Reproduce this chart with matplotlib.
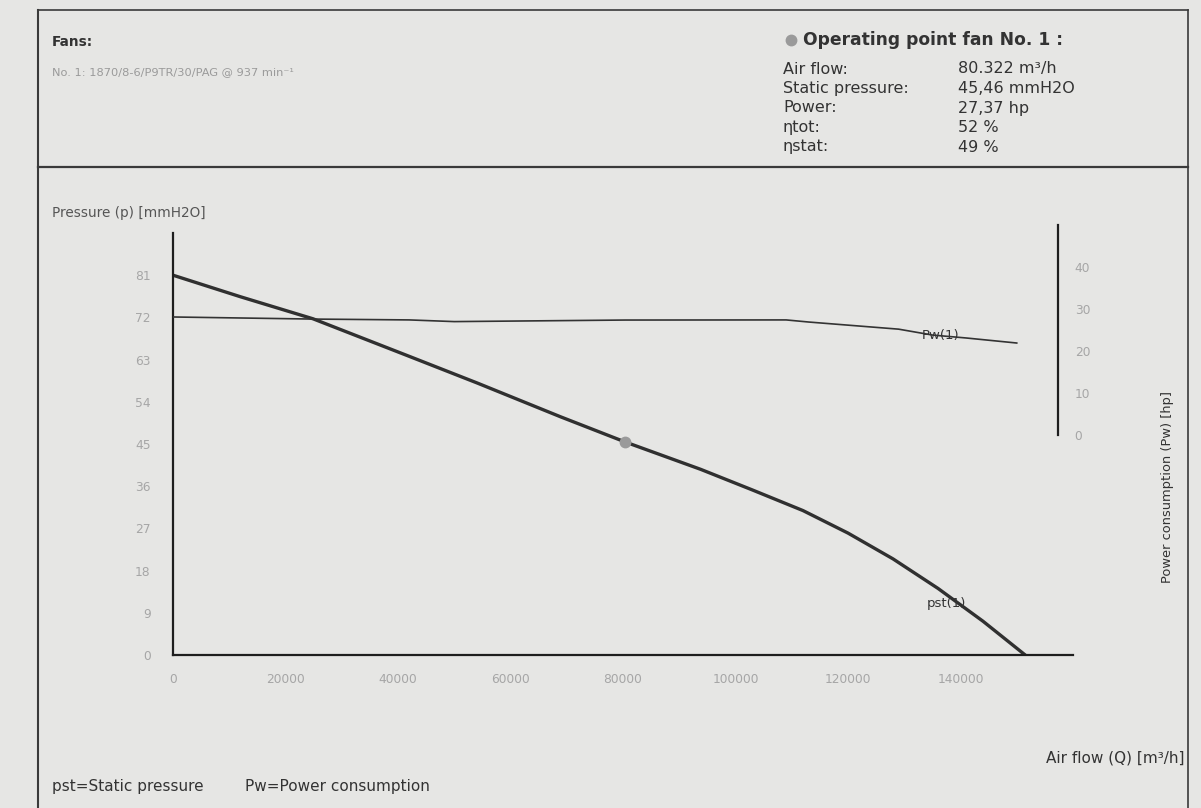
import matplotlib.pyplot as plt
from matplotlib.lines import Line2D

# fan curve data, static pressure (mmH2O) vs air flow (m3/h)
pst_flow = [0, 12000, 24900, 42200, 54100, 68900, 80322, 93800, 103000,
            112000, 120000, 128000, 136000, 144000, 151500]
pst_values = [81.0, 76.4, 71.7, 63.6, 58.0, 50.8, 45.46, 39.6, 35.2,
              30.8, 26.0, 20.5, 14.2, 7.2, 0.0]

# power consumption (hp) vs air flow
pw_flow = [0, 25000, 42000, 50000, 80322, 109000, 113000, 129000, 135000, 141000, 150000]
pw_values = [28.1, 27.6, 27.4, 27.0, 27.37, 27.4, 26.9, 25.2, 23.8, 23.1, 21.9]

# operating point
op_flow = 80322
op_pressure = 45.46

p_ticks = [0, 9, 18, 27, 36, 45, 54, 63, 72, 81]
q_ticks = [0, 20000, 40000, 60000, 80000, 100000, 120000, 140000]
pw_ticks = [0, 10, 20, 30, 40]

info_labels = ['Air flow:', 'Static pressure:', 'Power:', 'ηtot:', 'ηstat:']
info_values = ['80.322 m³/h', '45,46 mmH2O', '27,37 hp', '52 %', '49 %']

W, H = 1201, 808
paper = '#e6e6e4'
faint = '#a6a6a6'


def fx(px):
    return px / W


def fy(py):
    return 1 - py / H


fig = plt.figure(figsize=(W / 100, H / 100), dpi=100, facecolor=paper)

# frame around the sheet
for xs, ys, lw in [([38, 1188], [10, 10], 1.2),
                   ([38, 38], [10, 808], 1.5),
                   ([1188, 1188], [10, 808], 1.2),
                   ([38, 1188], [167, 167], 1.6)]:
    fig.add_artist(Line2D([fx(x) for x in xs], [fy(y) for y in ys],
                          color='#3a3a3a', lw=lw))

# header, left block
fig.text(fx(52), fy(42), 'Fans:', fontsize=9.8, fontweight='bold',
         color='#333333', va='center')
fig.text(fx(52), fy(72), 'No. 1: 1870/8-6/P9TR/30/PAG @ 937 min⁻¹',
         fontsize=8.2, color='#9a9a9a', va='center')

# header, operating point block
fig.add_artist(Line2D([fx(791)], [fy(40)], marker='o', markersize=7.5,
                      color='#9a9a9a', lw=0))
fig.text(fx(803), fy(40), 'Operating point fan No. 1 :', fontsize=12.3,
         fontweight='bold', color='#333333', va='center')
for i, (lab, val) in enumerate(zip(info_labels, info_values)):
    y = 69 + i * 19.5
    fig.text(fx(783), fy(y), lab, fontsize=11.5, color='#333333', va='center')
    fig.text(fx(958), fy(y), val, fontsize=11.5, color='#333333', va='center')

# main pressure axes
left, right, top, bottom = 173, 1073, 233, 655
ax = fig.add_axes([fx(left), fy(bottom), fx(right - left), (bottom - top) / H])
ax.set_facecolor('none')
ax.set_xlim(0, 160000)
ax.set_ylim(0, 90)
for s in ['top', 'right']:
    ax.spines[s].set_visible(False)
for s in ['left', 'bottom']:
    ax.spines[s].set_linewidth(1.6)
    ax.spines[s].set_color('#1e1e1e')
ax.set_xticks(q_ticks)
ax.set_xticklabels([str(q) for q in q_ticks])
ax.set_yticks(p_ticks)
ax.set_yticklabels([str(p) for p in p_ticks])
ax.tick_params(axis='both', length=0, labelsize=8.8, labelcolor=faint)
ax.tick_params(axis='x', pad=13)
ax.tick_params(axis='y', pad=16)

ax.plot(pst_flow, pst_values, color='#303030', lw=2.4, solid_capstyle='round')
ax.plot(op_flow, op_pressure, 'o', color='#9a9a9a', markersize=7.5, zorder=5)
ax.text(137500, 10.9, 'pst(1)', fontsize=9.5, color='#333333',
        ha='center', va='center')

# power axes: short scale drawn on the right
pw_right = 1058
pw_top, pw_bottom = 225, 435
ax2 = fig.add_axes([fx(left), fy(pw_bottom), fx(pw_right - left),
                    (pw_bottom - pw_top) / H])
ax2.set_facecolor('none')
ax2.set_xlim(0, 160000 * (pw_right - left) / (right - left))
ax2.set_ylim(0, 50)
for s in ['top', 'left', 'bottom']:
    ax2.spines[s].set_visible(False)
ax2.spines['right'].set_linewidth(1.6)
ax2.spines['right'].set_color('#1e1e1e')
ax2.set_xticks([])
ax2.yaxis.tick_right()
ax2.set_yticks(pw_ticks)
ax2.set_yticklabels([str(p) for p in pw_ticks])
ax2.tick_params(axis='y', length=0, labelsize=8.8, labelcolor=faint, pad=12)

ax2.plot(pw_flow, pw_values, color='#333333', lw=1.2)
ax2.text(136500, 23.8, 'Pw(1)', fontsize=9.5, color='#333333',
         ha='center', va='center')

# axis titles and footer
fig.text(fx(52), fy(213), 'Pressure (p) [mmH2O]', fontsize=9.8, color='#555555',
         va='center')
fig.text(fx(1167), fy(487), 'Power consumption (Pw) [hp]', fontsize=9.4,
         color='#333333', rotation=90, ha='center', va='center')
fig.text(fx(1184), fy(758), 'Air flow (Q) [m³/h]', fontsize=11,
         color='#333333', ha='right', va='center')
fig.text(fx(52), fy(787), 'pst=Static pressure', fontsize=11, color='#333333',
         va='center')
fig.text(fx(245), fy(787), 'Pw=Power consumption', fontsize=11, color='#333333',
         va='center')

fig.savefig('out.png', dpi=100, facecolor=paper)
